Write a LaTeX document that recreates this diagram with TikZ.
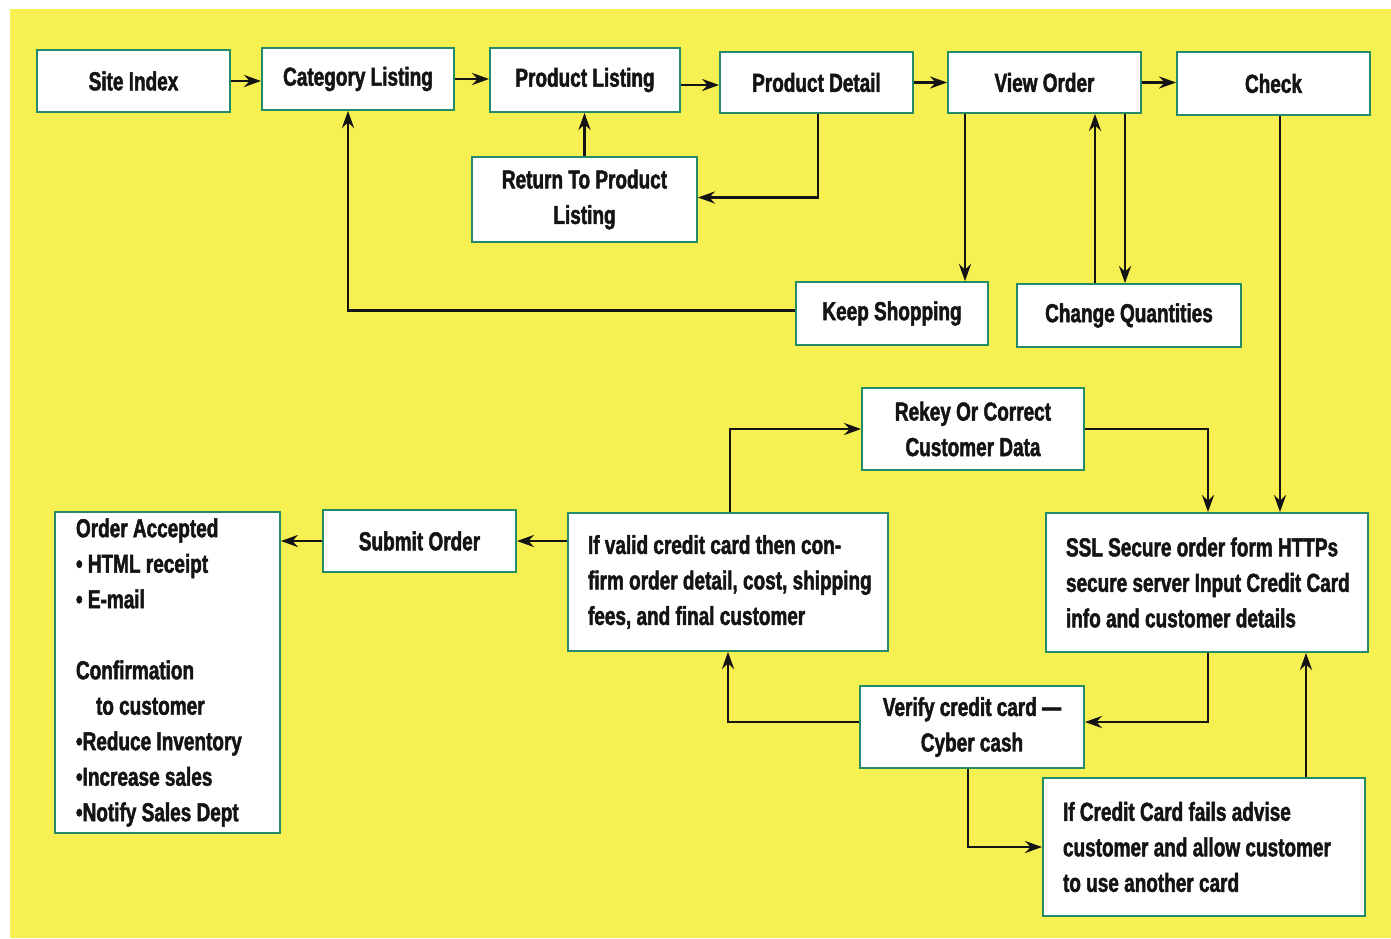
\documentclass[tikz,border=0pt]{standalone}
\usepackage{fontspec}
\setmainfont{Liberation Sans}[UprightFont={* Bold}, BoldFont={* Bold}, FakeStretch=0.73, FakeBold=1.8]
\usetikzlibrary{arrows.meta}
\definecolor{bgyellow}{RGB}{247,240,82}
\definecolor{boxgreen}{RGB}{35,140,100}
\definecolor{ink}{RGB}{20,20,20}
\newcommand\Lline[1]{\makebox[0pt][l]{#1}}
\begin{document}
\begin{tikzpicture}[x=1pt,y=-1pt,
  box/.style={draw=boxgreen, line width=1.8pt, fill=white, text=ink,
    font=\fontsize{26}{35.5}\selectfont, inner sep=0pt, align=center},
  lbox/.style={box, align=flush left, inner xsep=20pt},
  arr/.style={draw=ink, line width=2.8pt, -{Stealth[length=17pt,width=12pt]}}]
\useasboundingbox (0,0) rectangle (1391,938);
\fill[white] (0,0) rectangle (1391,938);
\fill[bgyellow] (10,9) rectangle (1391,938);

% top row
\node[box, minimum width=193pt, minimum height=62pt] (site) at (133.5,81) {Site Index};
\node[box, minimum width=192pt, minimum height=62pt] (cat) at (358,79) {Category Listing};
\node[box, minimum width=190pt, minimum height=64pt] (plist) at (585,80) {Product Listing};
\node[box, minimum width=193pt, minimum height=61pt] (pdet) at (816.5,82.5) {Product Detail};
\node[box, minimum width=193pt, minimum height=61pt] (vorder) at (1044.5,82.5) {View Order};
\node[box, minimum width=193pt, minimum height=63pt] (check) at (1273.5,83.5) {Check};

% second row
\node[box, minimum width=225pt, minimum height=85pt] (ret) at (584.5,199.5) {Return To Product\\Listing};
\node[box, minimum width=192pt, minimum height=63pt] (keep) at (892,313.5) {Keep Shopping};
\node[box, minimum width=224pt, minimum height=63pt] (change) at (1129,315.5) {Change Quantities};

% lower part
\node[box, minimum width=222pt, minimum height=82pt] (rekey) at (973,429) {Rekey Or Correct\\Customer Data};
\node[lbox, text width=282pt, minimum height=139pt] (ssl) at (1207,582.5)
  {\Lline{SSL Secure order form HTTPs}\\\Lline{secure server Input Credit Card}\\\Lline{info and customer details}};
\node[box, minimum width=193pt, minimum height=62pt] (submit) at (419.5,541) {Submit Order};
\node[lbox, text width=280pt, minimum height=138pt] (valid) at (728,582)
  {\Lline{If valid credit card then con-}\\\Lline{firm order detail, cost, shipping}\\\Lline{fees, and final customer}};
\node[lbox, inner xsep=21pt, text width=183pt, minimum height=321pt] (accepted) at (167.5,672.5)
  {\Lline{Order Accepted}\\\Lline{\textbullet\ HTML receipt}\\\Lline{\textbullet\ E-mail}\\[35.5pt]\Lline{Confirmation}\\\Lline{\hspace*{20pt}to customer}\\\Lline{\textbullet Reduce Inventory}\\\Lline{\textbullet Increase sales}\\\Lline{\textbullet Notify Sales Dept}};
\node[box, minimum width=224pt, minimum height=82pt] (verify) at (972,727) {Verify credit card —\\Cyber cash};
\node[lbox, text width=282pt, minimum height=138pt] (fails) at (1204,847)
  {\Lline{If Credit Card fails advise}\\\Lline{customer and allow customer}\\\Lline{to use another card}};

% connectors, top row
\draw[arr] (site.east) -- (site.east -| cat.west);
\draw[arr] (cat.east) -- (cat.east -| plist.west);
\draw[arr] ([yshift=-5pt]plist.east) -- ([yshift=-5pt]plist.east -| pdet.west);
\draw[arr] (pdet.east) -- (pdet.east -| vorder.west);
\draw[arr] (vorder.east) -- (vorder.east -| check.west);

% product loop
\draw[arr] (ret.north) -- (ret.north |- plist.south);
\draw[arr] ([xshift=1.5pt]pdet.south) |- ([yshift=2pt]ret.east);

% view order loops
\draw[arr] ([xshift=-79.5pt]vorder.south) -- ([xshift=-79.5pt]vorder.south |- keep.north);
\draw[arr] ([yshift=3pt]keep.west) -| ([xshift=-10pt]cat.south);
\draw[arr] ([xshift=-34pt]change.north) -- ([xshift=-34pt]change.north |- vorder.south);
\draw[arr] ([xshift=80.5pt]vorder.south) -- ([xshift=80.5pt]vorder.south |- change.north);

% checkout
\draw[arr] ([xshift=6.5pt]check.south) -- ([xshift=6.5pt]check.south |- ssl.north);
\draw[arr] (rekey.east) -| ([xshift=1pt]ssl.north);
\draw[arr] ([xshift=2pt]valid.north) |- (rekey.west);
\draw[arr] (submit.east -| valid.west) -- (submit.east);
\draw[arr] (submit.west) -- (submit.west -| accepted.east);
\draw[arr] ([xshift=1pt]ssl.south) |- ([yshift=5pt]verify.east);
\draw[arr] ([yshift=5pt]verify.west) -| (valid.south);
\draw[arr] ([xshift=-4pt]verify.south) |- (fails.west);
\draw[arr] ([xshift=102pt]fails.north) -- ([xshift=102pt]fails.north |- ssl.south);
\end{tikzpicture}
\end{document}
